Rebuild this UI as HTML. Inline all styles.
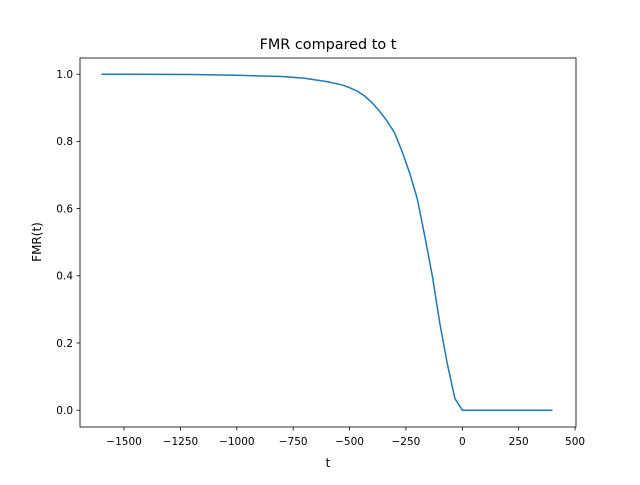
<!DOCTYPE html>
<html><head><meta charset="utf-8"><style>
body{margin:0;background:#fff;}
svg text{font-family:"DejaVu Sans","Liberation Sans",sans-serif;fill:#000;}
</style></head><body>
<svg id="chart" width="640" height="480" xmlns="http://www.w3.org/2000/svg">
<rect x="0" y="0" width="640" height="480" fill="#fff"/>
<text x="328" y="49" font-size="14.4" text-anchor="middle">FMR compared to t</text>
<g id="ticks"></g>
<polyline id="line" fill="none" stroke="#1f77b4" stroke-width="1.5" stroke-linejoin="round"/>
<rect x="80" y="58" width="496" height="369" fill="none" stroke="#000" stroke-width="0.8"/>
<text x="328" y="467" font-size="12" text-anchor="middle">t</text>
<text x="0" y="0" font-size="12" text-anchor="middle" transform="translate(41,242) rotate(-90)">FMR(t)</text>
</svg>
<script>
const tValues=[-1600,-1200,-1000,-800,-700,-600,-533,-500,-467,-433,-400,-367,-333,-300,-267,-233,-200,-167,-133,-100,-67,-33,0,400];
const fmrValues=[1.0,0.999,0.997,0.993,0.988,0.978,0.968,0.96,0.95,0.935,0.915,0.89,0.86,0.825,0.77,0.705,0.63,0.52,0.40,0.26,0.14,0.035,0,0];
const xTicks=[-1500,-1250,-1000,-750,-500,-250,0,250,500];
const yTicks=[0.0,0.2,0.4,0.6,0.8,1.0];
function xs(v){return 462.3+v*0.2255;}
function ys(v){return 410.2-v*336;}
const ns="http://www.w3.org/2000/svg";
const g=document.getElementById('ticks');
xTicks.forEach(v=>{
  const l=document.createElementNS(ns,'line');
  l.setAttribute('x1',xs(v));l.setAttribute('x2',xs(v));l.setAttribute('y1',427);l.setAttribute('y2',430.5);l.setAttribute('stroke','#000');l.setAttribute('stroke-width','0.8');
  
  
  g.appendChild(l);
  const t=document.createElementNS(ns,'text');
  t.setAttribute('x',xs(v));t.setAttribute('y',445);t.setAttribute('font-size','10.5');t.setAttribute('text-anchor','middle');
  t.textContent=v<0?'\u2212'+Math.abs(v):String(v);
  
  
  g.appendChild(t);
});
yTicks.forEach(v=>{
  const l=document.createElementNS(ns,'line');
  l.setAttribute('x1',76.5);l.setAttribute('x2',80);l.setAttribute('y1',ys(v));l.setAttribute('y2',ys(v));l.setAttribute('stroke','#000');l.setAttribute('stroke-width','0.8');
  
  
  g.appendChild(l);
  const t=document.createElementNS(ns,'text');
  t.setAttribute('x',73);t.setAttribute('y',ys(v)+3.8);t.setAttribute('font-size','10.5');t.setAttribute('text-anchor','end');
  t.textContent=v.toFixed(1);
  
  
  g.appendChild(t);
});
document.getElementById('line').setAttribute('points',tValues.map((t,i)=>xs(t)+','+ys(fmrValues[i])).join(' '));
</script>
</body></html>
